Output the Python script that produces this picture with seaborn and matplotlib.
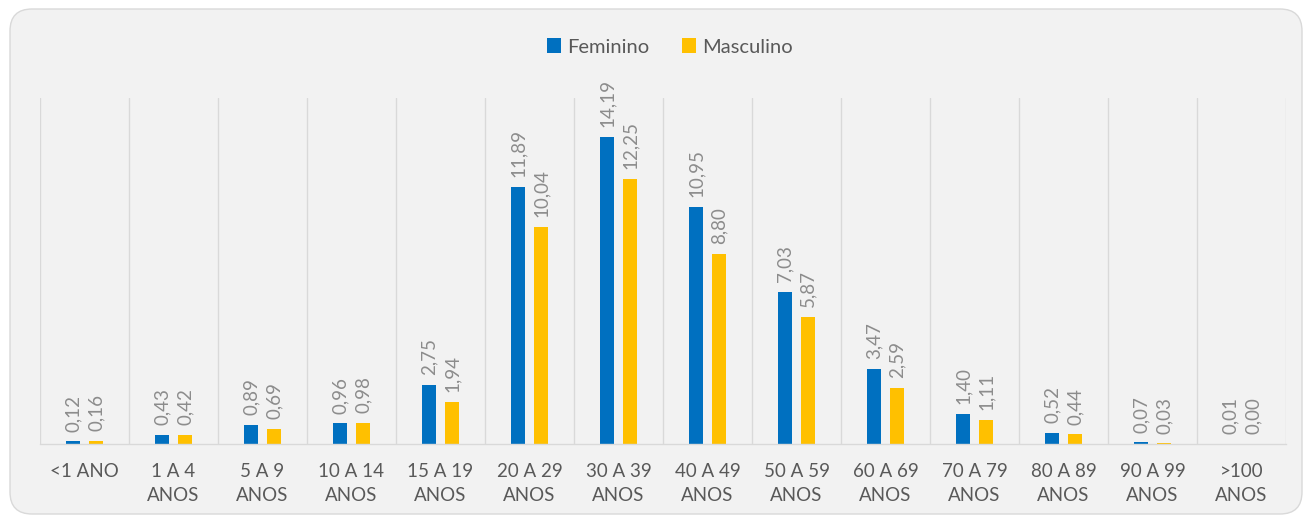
import matplotlib
matplotlib.use("Agg")
import matplotlib.pyplot as plt
from matplotlib.patches import FancyBboxPatch, Patch
import seaborn as sns
import pandas as pd

categories = ["<1 ANO", "1 A 4\nANOS", "5 A 9\nANOS", "10 A 14\nANOS", "15 A 19\nANOS",
              "20 A 29\nANOS", "30 A 39\nANOS", "40 A 49\nANOS", "50 A 59\nANOS",
              "60 A 69\nANOS", "70 A 79\nANOS", "80 A 89\nANOS", "90 A 99\nANOS", ">100\nANOS"]
feminino = [0.12, 0.43, 0.89, 0.96, 2.75, 11.89, 14.19, 10.95, 7.03, 3.47, 1.40, 0.52, 0.07, 0.01]
masculino = [0.16, 0.42, 0.69, 0.98, 1.94, 10.04, 12.25, 8.80, 5.87, 2.59, 1.11, 0.44, 0.03, 0.00]
series_names = ["Feminino", "Masculino"]
colors = ["#0070C0", "#FFC000"]

df = pd.DataFrame({
    "cat": categories * 2,
    "val": feminino + masculino,
    "sexo": [series_names[0]] * len(categories) + [series_names[1]] * len(categories),
})

sns.set_theme(style="white")
plt.rcParams["font.family"] = ["Lato", "DejaVu Sans"]

W, H = 1306, 519
fig = plt.figure(figsize=(W / 100, H / 100), dpi=100)
fig.patch.set_facecolor("white")

# rounded chart panel (background axes in pixel units)
bg = fig.add_axes([0, 0, 1, 1], zorder=-10)
bg.set_xlim(0, W)
bg.set_ylim(H, 0)
bg.axis("off")
bg.add_patch(FancyBboxPatch((10, 9), 1292, 505,
                            boxstyle="round,pad=0,rounding_size=22",
                            facecolor="#F2F2F2", edgecolor="#D9D9D9", linewidth=1.0))

ax = fig.add_axes([40 / W, 75 / H, 1246 / W, 346 / H], zorder=1)
ax.set_facecolor("none")

sns.barplot(data=df, x="cat", y="val", hue="sexo", palette=colors,
            width=0.52, gap=0.42, ax=ax, legend=False, saturation=1, linewidth=0)

for cont, vals in zip(ax.containers, [feminino, masculino]):
    labels = [f"{v:.2f}".replace(".", ",") for v in vals]
    ax.bar_label(cont, labels=labels, rotation=90, padding=7,
                 fontsize=13.5, color="#8C8C8C")

ax.set_xlim(-0.5, len(categories) - 0.5)
ax.set_ylim(0, 16)
ax.set_yticks([])
ax.set_xlabel("")
ax.set_ylabel("")
ax.set_xticks([i + 0.5 for i in range(-1, len(categories))], minor=True)
ax.grid(which="minor", axis="x", color="#D9D9D9", linewidth=1.0)
ax.tick_params(axis="x", which="both", length=0, pad=14, labelsize=13.5,
               labelcolor="#595959")
for lbl in ax.get_xticklabels():
    lbl.set_linespacing(1.45)
for s in ["top", "left", "right"]:
    ax.spines[s].set_visible(False)
ax.spines["bottom"].set_color("#D9D9D9")
ax.spines["bottom"].set_linewidth(1.0)

handles = [Patch(facecolor=c, edgecolor="none", label=n) for c, n in zip(colors, series_names)]
fig.legend(handles=handles, loc="center", bbox_to_anchor=(0.513, 1 - 47 / H), ncol=2,
           frameon=False, fontsize=14.5, handlelength=0.7, handleheight=0.7,
           handletextpad=0.3, columnspacing=1.6, labelcolor="#595959")

fig.savefig("out.png", dpi=100, facecolor="white")
